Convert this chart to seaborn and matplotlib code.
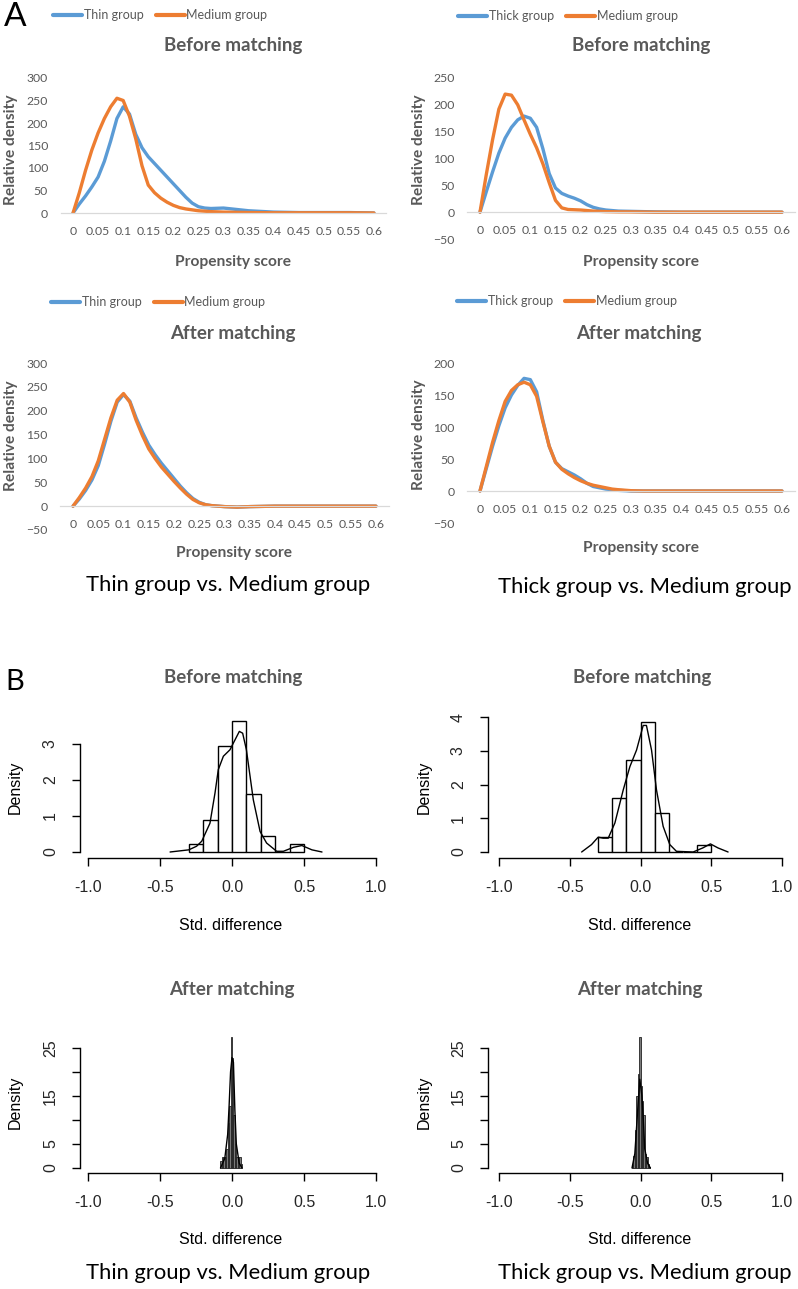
import numpy as np
import pandas as pd
import seaborn as sns
import matplotlib.pyplot as plt

# ---------------- Panel A: propensity score density curves ----------------
ps_x = [0, 0.0125, 0.025, 0.0375, 0.05, 0.0625, 0.075, 0.0875, 0.1, 0.1125,
        0.125, 0.1375, 0.15, 0.1625, 0.175, 0.1875, 0.2, 0.2125, 0.225, 0.2375,
        0.25, 0.2625, 0.275, 0.3, 0.325, 0.35, 0.4, 0.45, 0.5, 0.55, 0.6]

thin_before = [0, 20, 38, 58, 80, 115, 160, 210, 236, 220, 175, 145, 125, 110, 95, 80,
               65, 50, 35, 22, 14, 11, 10, 11, 8, 5, 2, 1, 1, 1, 0]
med_before_thin = [0, 45, 95, 140, 178, 210, 236, 255, 250, 215, 165, 105, 62, 45, 33, 24,
                   17, 12, 9, 7, 5, 4, 3, 2, 1.5, 1, 0.5, 0.5, 0.5, 0.5, 0]
thick_before = [0, 38, 75, 110, 138, 158, 172, 179, 175, 158, 118, 72, 45, 35, 30, 26,
                21, 14, 9, 6, 4, 3, 2, 1.5, 1, 0.5, 0, 0, 0, 0, 0]
med_before_thick = [0, 70, 135, 192, 220, 218, 200, 172, 145, 120, 90, 55, 22, 8, 5, 4.5,
                    4, 3, 2, 1.5, 1, 0.8, 0.6, 0.5, 0.3, 0, 0, 0, 0, 0, 0]
thin_after = [0, 15, 33, 55, 85, 130, 178, 218, 234, 220, 185, 155, 128, 108, 90, 74,
              58, 42, 28, 16, 8, 3, 1, -1, -2, -1, 0, 0, 0, 0, 0]
med_after_thin = [0, 18, 38, 62, 95, 140, 185, 222, 236, 218, 180, 148, 120, 100, 82, 67,
                  52, 38, 25, 14, 7, 3, 1, -1, -2, -1, 0, 0, 0, 0, 0]
thick_after = [0, 35, 70, 102, 130, 150, 165, 176, 174, 155, 110, 70, 45, 35, 30, 25,
               19, 12, 7, 5, 3, 2, 1, 0, 0, 0, 0, 0, 0, 0, 0]
med_after_thick = [0, 38, 76, 110, 140, 157, 166, 170, 166, 148, 108, 70, 45, 34, 27, 21,
                   16, 12, 9, 7, 5, 3, 2, 0.5, 0, 0, 0, 0, 0, 0, 0]

ps_ticks = [0, 0.05, 0.1, 0.15, 0.2, 0.25, 0.3, 0.35, 0.4, 0.45, 0.5, 0.55, 0.6]

# ---------------- Panel B: std. difference histograms ----------------
before_edges = [-0.3, -0.2, -0.1, 0.0, 0.1, 0.2, 0.3, 0.4, 0.5]
thin_before_hist = [0.22, 0.9, 2.95, 3.65, 1.6, 0.45, 0, 0.22]
thick_before_hist = [0.45, 1.6, 2.72, 3.85, 1.15, 0, 0, 0.22]

thin_before_kde_x = [-0.43, -0.30, -0.246, -0.21, -0.153, -0.118, -0.095, -0.06, -0.014,
                     0.01, 0.051, 0.074, 0.1, 0.148, 0.195, 0.24, 0.31, 0.357, 0.427,
                     0.485, 0.555, 0.625]
thin_before_kde_y = [0, 0.06, 0.16, 0.3, 0.8, 1.64, 2.29, 2.66, 2.84, 3.03, 3.35, 3.3,
                     2.84, 1.45, 0.57, 0.25, 0.02, 0.02, 0.13, 0.18, 0.06, 0]
thick_before_kde_x = [-0.416, -0.346, -0.299, -0.264, -0.228, -0.181, -0.122, -0.075,
                      -0.028, 0.019, 0.042, 0.078, 0.113, 0.16, 0.207, 0.254, 0.372,
                      0.44, 0.494, 0.548, 0.619]
thick_before_kde_y = [0, 0.22, 0.44, 0.41, 0.41, 0.86, 1.84, 2.53, 3.02, 3.75, 3.75,
                      3.02, 1.84, 0.76, 0.22, 0.02, 0, 0.12, 0.24, 0.12, 0]

thin_after_edges = [-0.08, -0.07, -0.06, -0.05, -0.04, -0.03, -0.02, -0.01, 0.0,
                    0.01, 0.02, 0.03, 0.04, 0.05, 0.06, 0.07]
thin_after_hist = [1.5, 2.3, 2.3, 2.3, 4, 9.4, 13, 27.3, 23, 11, 5, 2.3, 2.3, 2.3, 0.8]
thin_after_kde_x = [-0.08, -0.05, -0.03, -0.02, -0.01, 0.0, 0.01, 0.02, 0.03, 0.05, 0.07]
thin_after_kde_y = [0, 2, 7, 13, 20, 23, 22, 12, 5, 1, 0]

thick_after_edges = [-0.06, -0.05, -0.04, -0.03, -0.02, -0.01, 0.0, 0.01, 0.02, 0.03,
                     0.04, 0.05, 0.06, 0.07]
thick_after_hist = [0.6, 2.5, 8, 15, 19.5, 27.3, 17, 14, 11, 3, 2.3, 0.8, 0.3]
thick_after_kde_x = [-0.06, -0.04, -0.02, -0.005, 0.01, 0.02, 0.03, 0.05, 0.07]
thick_after_kde_y = [0, 3, 12, 18.5, 15, 10, 4, 1, 0]

std_ticks = [-1.0, -0.5, 0.0, 0.5, 1.0]

BLUE = "#5B9BD5"
ORANGE = "#ED7D31"
GREY_TXT = "#595959"

sns.set_style("white")
plt.rcParams["font.family"] = ["Lato", "DejaVu Sans"]

W, H = 798, 1289
fig = plt.figure(figsize=(W / 100, H / 100), dpi=100)


def axes_px(left, top, right, bottom):
    return fig.add_axes([left / W, 1 - bottom / H, (right - left) / W, (bottom - top) / H])


def text_px(x, y, s, **kw):
    kw.setdefault("ha", "center")
    kw.setdefault("va", "center")
    fig.text(x / W, 1 - y / H, s, **kw)


def ps_panel(box, yticks, ylim, series, labels, legend_xy):
    ax = axes_px(*box)
    sns.lineplot(x=ps_x, y=series[0], ax=ax, color=BLUE, linewidth=2.4,
                 solid_capstyle="round", solid_joinstyle="round", label=labels[0])
    sns.lineplot(x=ps_x, y=series[1], ax=ax, color=ORANGE, linewidth=2.4,
                 solid_capstyle="round", solid_joinstyle="round", label=labels[1])
    ax.set_xlim(-0.025, 0.625)
    ax.set_ylim(*ylim)
    for s in ["top", "right", "left"]:
        ax.spines[s].set_visible(False)
    ax.spines["bottom"].set_position(("data", 0))
    ax.spines["bottom"].set_color("#D9D9D9")
    ax.spines["bottom"].set_linewidth(0.9)
    ax.set_xticks(ps_ticks)
    ax.set_xticklabels([f"{v:g}" for v in ps_ticks])
    ax.set_yticks(yticks)
    ax.tick_params(length=0, labelsize=8.8, labelcolor=GREY_TXT)
    ax.tick_params(axis="y", pad=9)
    ax.tick_params(axis="x", pad=9.5)
    ax.set_xlabel("")
    ax.set_ylabel("")
    handles, labs = ax.get_legend_handles_labels()
    ax.legend(handles, labs, loc="center left", ncol=2, frameon=False,
              bbox_to_anchor=(legend_xy[0] / W, 1 - legend_xy[1] / H),
              bbox_transform=fig.transFigure, fontsize=9, labelcolor=GREY_TXT,
              handlelength=2.3, handletextpad=0.15, columnspacing=1.0,
              borderaxespad=0, borderpad=0)
    for ln in ax.get_legend().get_lines():
        ln.set_linewidth(3)
    return ax


ps_panel((60.5, 78, 386.5, 213), [0, 50, 100, 150, 200, 250, 300], (0, 300),
         (thin_before, med_before_thin), ("Thin group", "Medium group"), (53, 15))
ps_panel((467.4, 78, 794.6, 239), [-50, 0, 50, 100, 150, 200, 250], (-50, 250),
         (thick_before, med_before_thick), ("Thick group", "Medium group"), (458, 16))
ps_panel((60.4, 363, 388.6, 530), [-50, 0, 50, 100, 150, 200, 250, 300], (-50, 300),
         (thin_after, med_after_thin), ("Thin group", "Medium group"), (51, 302))
ps_panel((467.4, 363, 794.6, 523), [-50, 0, 50, 100, 150, 200], (-50, 200),
         (thick_after, med_after_thick), ("Thick group", "Medium group"), (457, 301))

title_kw = dict(fontsize=13.5, fontweight="bold", color=GREY_TXT)
lab_kw = dict(fontsize=11.2, fontweight="bold", color=GREY_TXT)
text_px(233, 46, "Before matching", **title_kw)
text_px(641, 46, "Before matching", **title_kw)
text_px(232.5, 333, "After matching", **title_kw)
text_px(639, 333, "After matching", **title_kw)
text_px(11, 150, "Relative density", rotation=90, **lab_kw)
text_px(419, 150, "Relative density", rotation=90, **lab_kw)
text_px(11, 436, "Relative density", rotation=90, **lab_kw)
text_px(419, 435, "Relative density", rotation=90, **lab_kw)
text_px(233, 262, "Propensity score", **lab_kw)
text_px(641, 262, "Propensity score", **lab_kw)
text_px(234, 553, "Propensity score", **lab_kw)
text_px(641, 548, "Propensity score", **lab_kw)

cap_kw = dict(fontsize=15.8, color="black")
text_px(228, 585, "Thin group vs. Medium group", **cap_kw)
text_px(645, 587, "Thick group vs. Medium group", **cap_kw)
text_px(228, 1273, "Thin group vs. Medium group", **cap_kw)
text_px(645, 1273, "Thick group vs. Medium group", **cap_kw)

text_px(15, 17, "A", fontsize=24, color="black")
text_px(15, 682, "B", fontsize=21, color="black")


# ---------------- Panel B axes ----------------
def std_panel(px, top, edges, heights, kde_x, kde_y, yticks, yticklabels, after):
    # px: y-spine x, x of -1.0, x of 1.0, y of 0, (tick value, y of tick), x-axis y
    spine_x, xm1, xp1, y0, (tv, ytv), xaxis_y = px
    right = xp1 + 12
    ax = axes_px(spine_x, top, right, xaxis_y)
    sx = (xp1 - xm1) / 2
    sy = (y0 - ytv) / tv
    centers = [(a + b) / 2 for a, b in zip(edges[:-1], edges[1:])]
    sns.histplot(x=centers, weights=heights, bins=edges, stat="count", ax=ax,
                 color="#7a7a7a" if after else "white",
                 edgecolor="#222222" if after else "black",
                 linewidth=0.6 if after else 1.0, alpha=1)
    sns.lineplot(x=kde_x, y=kde_y, ax=ax, color="black", linewidth=1.0)
    ax.set_xlim(-1 - (xm1 - spine_x) / sx, 1 + (right - xp1) / sx)
    ax.set_ylim(-(xaxis_y - y0) / sy, (y0 - top) / sy)
    for s in ["top", "right"]:
        ax.spines[s].set_visible(False)
    for s in ["left", "bottom"]:
        ax.spines[s].set_color("black")
        ax.spines[s].set_linewidth(1.0)
    ax.spines["bottom"].set_bounds(-1, 1)
    ax.spines["left"].set_bounds(yticks[0], yticks[-1])
    ax.set_xticks(std_ticks)
    ax.set_xticklabels([f"{v:.1f}" for v in std_ticks], family="Liberation Sans")
    ax.set_yticks(yticks)
    ax.set_yticklabels(yticklabels, family="Liberation Sans", rotation=90,
                       ha="center", va="center")
    ax.tick_params(direction="out", length=5.8, width=1, color="black",
                   labelsize=11.5, left=True, bottom=True)
    ax.tick_params(axis="x", pad=10)
    ax.tick_params(axis="y", pad=15.5)
    ax.set_xlabel("")
    ax.set_ylabel("")
    return ax


std_panel((80, 88, 376, 852, (3, 744), 858), 712, before_edges, thin_before_hist,
          thin_before_kde_x, thin_before_kde_y, [0, 1, 2, 3], ["0", "1", "2", "3"], False)
std_panel((488, 499, 782, 852, (4, 717), 858), 712, before_edges, thick_before_hist,
          thick_before_kde_x, thick_before_kde_y, [0, 1, 2, 3, 4],
          ["0", "1", "2", "3", "4"], False)
std_panel((80, 88, 376, 1168, (25, 1048), 1173), 1030, thin_after_edges, thin_after_hist,
          thin_after_kde_x, thin_after_kde_y, [0, 5, 10, 15, 20, 25],
          ["0", "5", "", "15", "", "25"], True)
std_panel((488, 499, 782, 1168, (25, 1048), 1173), 1030, thick_after_edges,
          thick_after_hist, thick_after_kde_x, thick_after_kde_y, [0, 5, 10, 15, 20, 25],
          ["0", "5", "", "15", "", "25"], True)

r_kw = dict(fontsize=11.5, color="black", family="Liberation Sans")
text_px(233, 678, "Before matching", **title_kw)
text_px(642, 678, "Before matching", **title_kw)
text_px(232, 989, "After matching", **title_kw)
text_px(639.5, 989, "After matching", **title_kw)
text_px(15, 787, "Density", rotation=90, **r_kw)
text_px(424, 787, "Density", rotation=90, **r_kw)
text_px(15, 1102, "Density", rotation=90, **r_kw)
text_px(424, 1102, "Density", rotation=90, **r_kw)
text_px(231, 925, "Std. difference", **r_kw)
text_px(640, 925, "Std. difference", **r_kw)
text_px(231, 1240, "Std. difference", **r_kw)
text_px(640, 1240, "Std. difference", **r_kw)

fig.savefig("out.png", dpi=100)
